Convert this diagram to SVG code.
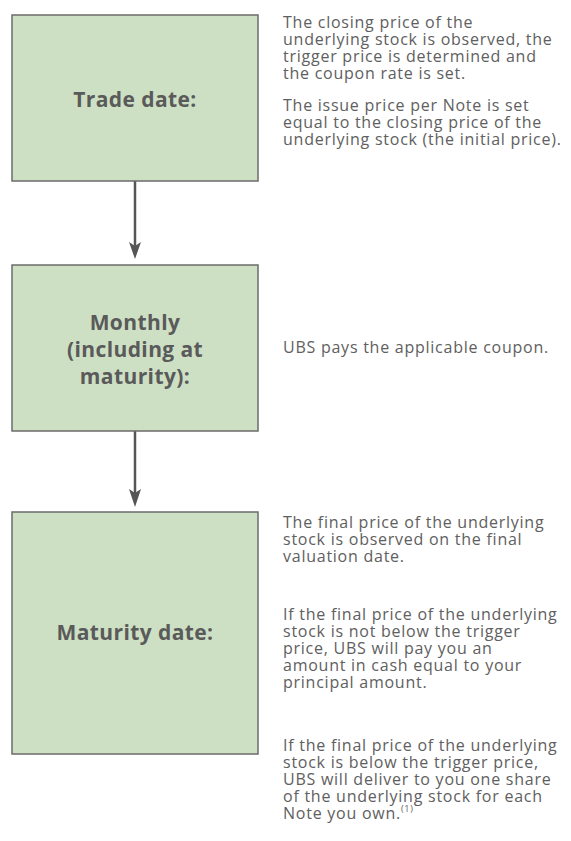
<svg xmlns="http://www.w3.org/2000/svg" width="571" height="841" viewBox="0 0 571 841">
<defs>
<style>
.box{fill:#cde0c4;stroke:#6b6b6b;stroke-width:1.5}
.lbl{font-family:"Open Sans","Noto Sans",sans-serif;font-weight:bold;font-size:21px;letter-spacing:0.4px;fill:#5a5a5a;text-anchor:middle}
.txt{font-family:"Open Sans","Noto Sans",sans-serif;font-size:16px;letter-spacing:0.75px;fill:#606060}
.conn{stroke:#555;stroke-width:2.5;fill:none}
.head{fill:#555}
</style>
</defs>
<rect width="571" height="841" fill="#fff"/>
<g id="connectors">
<line class="conn" x1="135" y1="181" x2="135" y2="246"/>
<path class="head" d="M129,242 L135,246 L141,242 L135,259 Z"/>
<line class="conn" x1="135" y1="431" x2="135" y2="493"/>
<path class="head" d="M129,489 L135,493 L141,489 L135,507 Z"/>
</g>
<g id="trade">
<rect class="box" x="12" y="15" width="246" height="166"/>
<text class="lbl" x="135" y="107">Trade date:</text>
</g>
<g id="trade-text">
<text class="txt"><tspan x="283" y="28">The closing price of the</tspan><tspan x="283" y="45">underlying stock is observed, the</tspan><tspan x="283" y="62">trigger price is determined and</tspan><tspan x="283" y="79">the coupon rate is set.</tspan><tspan x="283" y="111">The issue price per Note is set</tspan><tspan x="283" y="128">equal to the closing price of the</tspan><tspan x="283" y="145">underlying stock (the initial price).</tspan></text>
</g>
<g id="monthly">
<rect class="box" x="12" y="265" width="246" height="166"/>
<text class="lbl"><tspan x="135" y="330">Monthly</tspan><tspan x="135" y="357">(including at</tspan><tspan x="135" y="384">maturity):</tspan></text>
</g>
<g id="monthly-text">
<text class="txt" x="283" y="353">UBS pays the applicable coupon.</text>
</g>
<g id="maturity">
<rect class="box" x="12" y="512" width="246" height="242"/>
<text class="lbl" x="135" y="640">Maturity date:</text>
</g>
<g id="maturity-text">
<text class="txt"><tspan x="283" y="528">The final price of the underlying</tspan><tspan x="283" y="545">stock is observed on the final</tspan><tspan x="283" y="562">valuation date.</tspan><tspan x="283" y="620">If the final price of the underlying</tspan><tspan x="283" y="637">stock is not below the trigger</tspan><tspan x="283" y="654">price, UBS will pay you an</tspan><tspan x="283" y="671">amount in cash equal to your</tspan><tspan x="283" y="688">principal amount.</tspan><tspan x="283" y="751">If the final price of the underlying</tspan><tspan x="283" y="768">stock is below the trigger price,</tspan><tspan x="283" y="785">UBS will deliver to you one share</tspan><tspan x="283" y="802">of the underlying stock for each</tspan><tspan x="283" y="819">Note you own.<tspan font-size="9" dy="-7">(1)</tspan></tspan></text>
</g>
</svg>
